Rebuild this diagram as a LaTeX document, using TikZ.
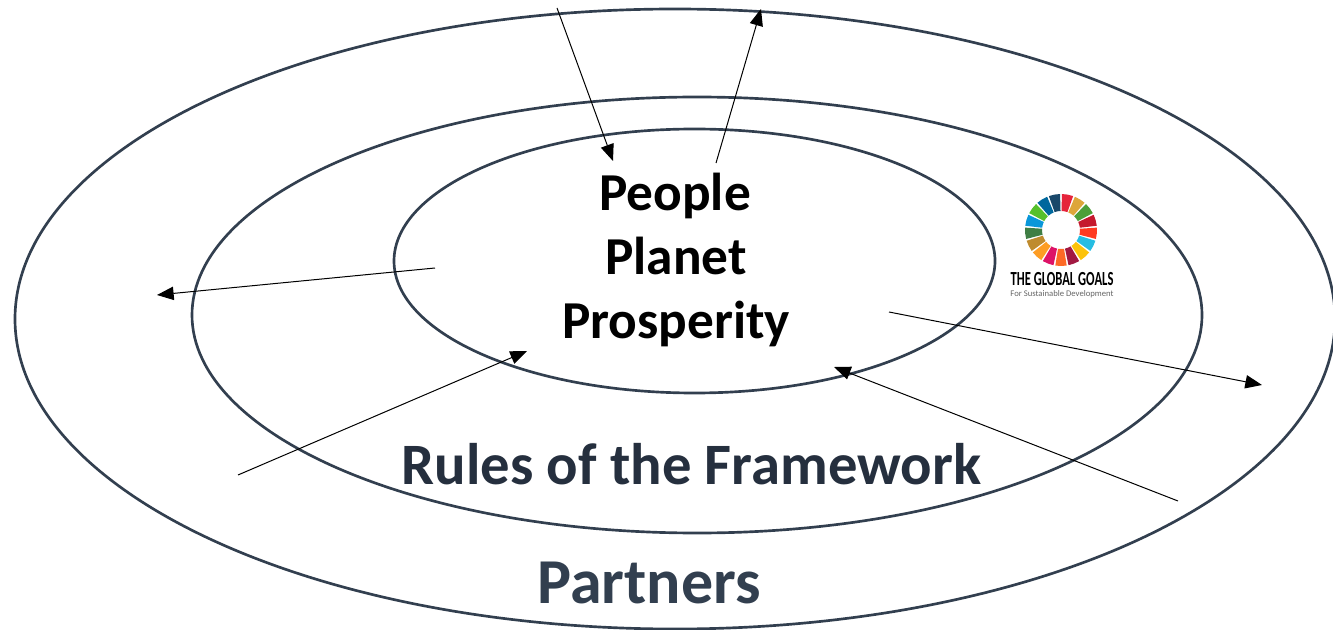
\documentclass[tikz,border=0pt]{standalone}
\usepackage{fontspec}
\setmainfont{Carlito}
\newfontfamily\ggfont[FakeStretch=0.63,BoldFont={Carlito Bold}]{Carlito}
\usetikzlibrary{arrows.meta}
\definecolor{ring}{HTML}{323F4F}
\definecolor{ruletext}{HTML}{252F3E}
\tikzset{
  x=0.75pt,y=-0.75pt,
  ringline/.style={draw=ring,line width=2pt},
  flow/.style={draw=black,line width=0.75pt,-{Triangle[length=12.5pt,width=10pt]}},
  core/.style={font=\bfseries\fontsize{40}{40}\selectfont,text=black,inner sep=0pt,anchor=base},
  layer/.style={font=\bfseries\fontsize{44}{44}\selectfont,text=ruletext,inner sep=0pt,anchor=base},
  goaltext/.style={inner sep=0pt,text=black,anchor=base},
}
\begin{document}
\begin{tikzpicture}
\useasboundingbox (0,0) rectangle (1333,630);
\clip (0,0) rectangle (1333,630);
\path[ringline] (675,319) ellipse [x radius=660,y radius=310];
\path[ringline] (697,315) ellipse [x radius=505,y radius=218];
\path[ringline] (694.5,261) ellipse [x radius=300.5,y radius=132];
\node[core] (people) at (675,211) {People};
\node[core] (planet) at (676,275) {Planet};
\node[core] (prosperity) at (676,339) {Prosperity};
\node[layer] (rules) at (691.5,484) {Rules of the Framework};
\node[layer,text=ring,font=\bfseries\fontsize{48}{48}\selectfont] (partners) at (649,603) {Partners};
\coordinate (a1) at (557,8); \coordinate (b1) at (613,161);
\coordinate (a2) at (716,163); \coordinate (b2) at (761,9);
\coordinate (a3) at (435,268); \coordinate (b3) at (157,295);
\coordinate (a4) at (238,475); \coordinate (b4) at (527,351);
\coordinate (a5) at (889,312); \coordinate (b5) at (1262,385);
\coordinate (a6) at (1178,501); \coordinate (b6) at (834,367);
\foreach \i in {1,...,6} \draw[flow] (a\i) -- (b\i);
\coordinate (wheel) at (1061,230);
\foreach \c [count=\n from 0] in {E5243B,DDA63A,4C9F38,C5192D,FF3A21,26BDE2,FCC30B,A21942,FD6925,DD1367,FD9D24,BF8B2E,3F7E44,0A97D9,56C02B,00689D,19486A}{
  \definecolor{seg}{HTML}{\c}
  \pgfmathsetmacro\startang{\n*360/17-90+1.5}
  \pgfmathsetmacro\endang{\n*360/17-90+360/17-1.5}
  \fill[seg] (wheel) ++(\startang:36) arc[start angle=\startang,end angle=\endang,radius=36]
     -- ++(\endang+180:17) arc[start angle=\endang,end angle=\startang,radius=19] -- cycle;
}
\node[goaltext,font=\ggfont\bfseries\fontsize{15}{15}\selectfont] (gg) at (1062,286) {THE GLOBAL GOALS};
\node[goaltext,text=black!60,font=\fontsize{6.5}{6.5}\selectfont] (fsd) at (1062,297) {For Sustainable Development};
\end{tikzpicture}
\end{document}
